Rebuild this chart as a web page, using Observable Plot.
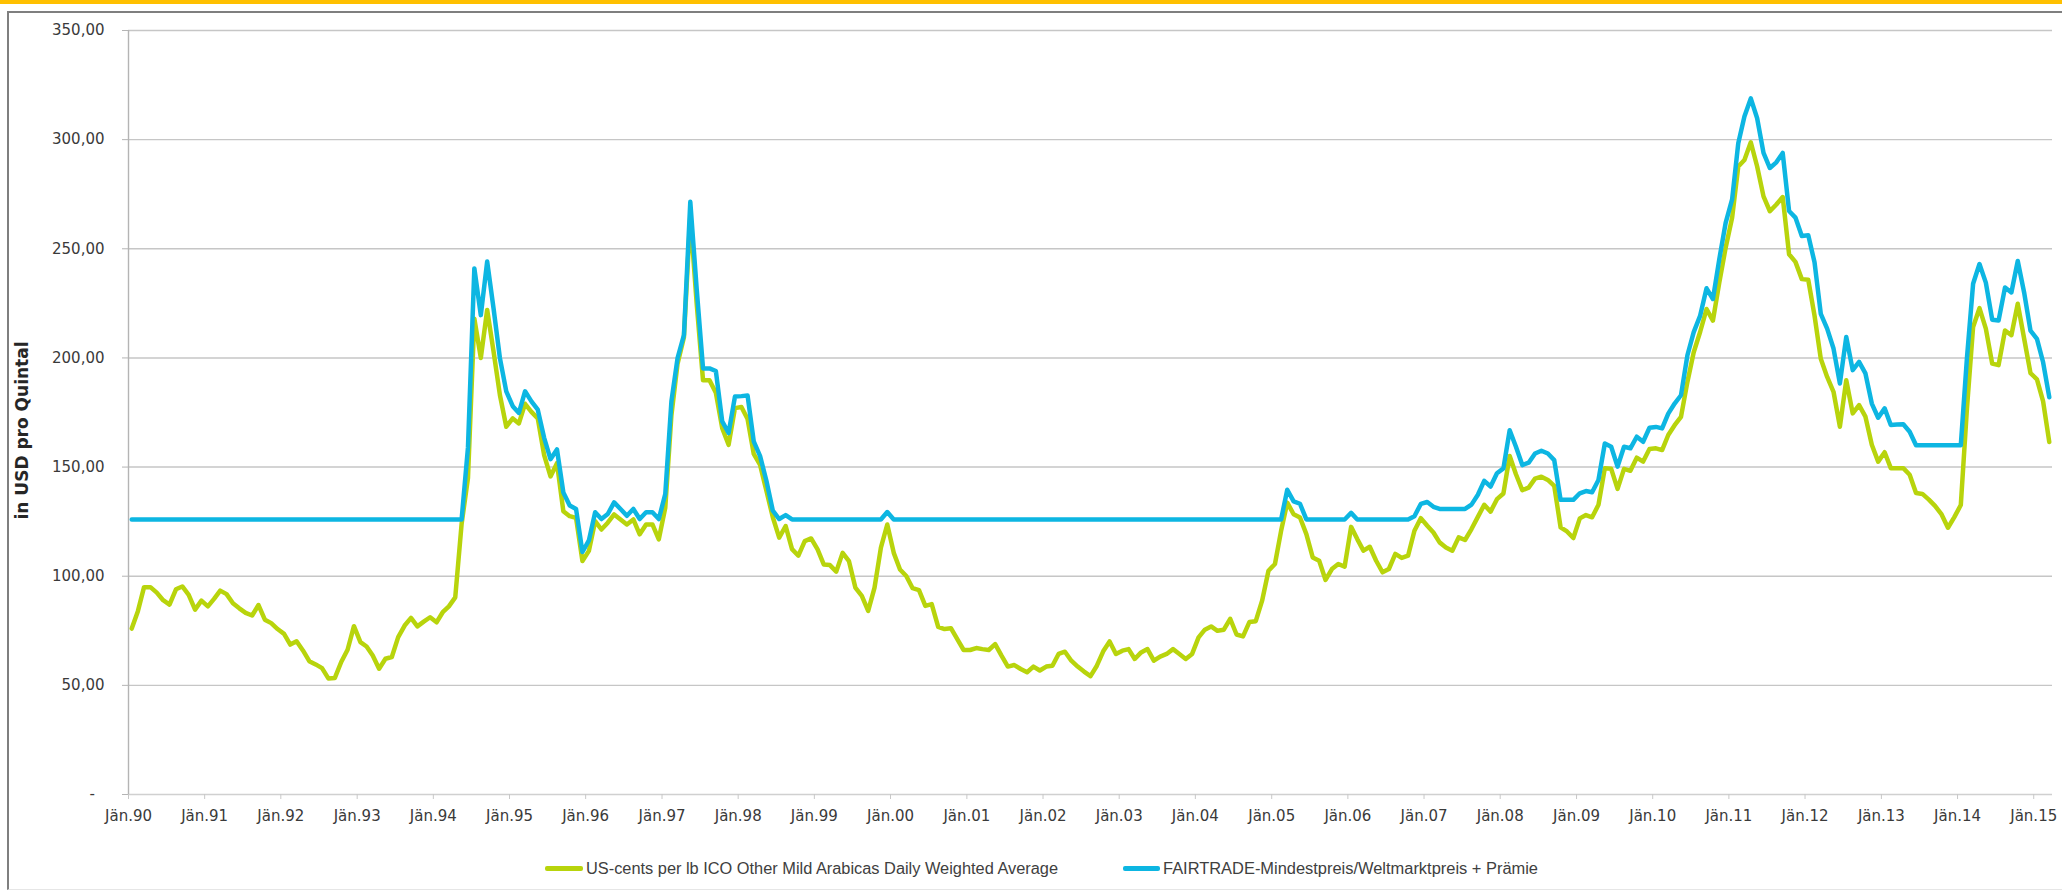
<!DOCTYPE html>
<html><head><meta charset="utf-8">
<script src="https://cdn.jsdelivr.net/npm/d3@7"></script>
<script src="https://cdn.jsdelivr.net/npm/@observablehq/plot@0.6"></script>
<style>
html,body{margin:0;padding:0;background:#fff;width:2062px;height:891px;overflow:hidden;position:relative;font-family:"DejaVu Sans",sans-serif;}
#bar{position:absolute;left:0;top:0;width:2062px;height:4px;background:#ffc000;}
#frame{position:absolute;left:7px;top:11px;width:2060px;height:879px;border-top:2px solid #7f7f7f;border-left:2px solid #7f7f7f;border-bottom:1px solid #e6e6e6;box-sizing:border-box;}
#chart{position:absolute;left:0;top:0;}
#legend{position:absolute;left:0;top:0;width:2062px;height:891px;}
.sw{position:absolute;height:5px;border-radius:2px;}
.lt{position:absolute;white-space:nowrap;font-family:"Liberation Sans Narrow","Liberation Sans",sans-serif;font-size:16px;line-height:20px;color:#404040;transform-origin:0 50%;}
</style></head><body>
<div id="bar"></div><div id="frame"></div><div id="chart"></div><div id="legend"></div>
<script>
// ---- data (monthly, Jan 1990 .. Mar 2015) ----
const firstYear = 1990;
const seriesNames = [
  "US-cents per lb ICO Other Mild Arabicas Daily Weighted Average",
  "FAIRTRADE-Mindestpreis/Weltmarktpreis + Prämie"
];
const seriesColors = ["#b8d40c", "#0db6e2"];
const yAxisTitle = "in USD pro Quintal";

const icoPrices = [
  76, 84, 95, 95, 92.5, 89, 87, 94, 95.3, 91.5,
  84.7, 88.8, 86.2, 89.6, 93.4, 91.8, 87.6, 85.3, 83.2, 82,
  86.8, 80.1, 78.5, 75.8, 73.6, 68.7, 70.2, 66, 61.1, 59.6,
  57.9, 53.1, 53.4, 60.7, 66.3, 77.1, 69.8, 67.8, 63.7, 57.6,
  62.2, 63, 72.1, 77.4, 80.9, 77, 79.2, 81.2, 78.9, 83.5,
  86.2, 90.3, 124, 145, 218, 200, 222, 203, 183, 168.5,
  172.3, 170, 179, 175.3, 172.3, 155.5, 145.7, 151.8, 129.8, 127.5,
  126.7, 107, 111.6, 125.2, 121.4, 124.5, 128.3, 126, 123.7, 126,
  119.2, 123.7, 123.7, 116.9, 131.3, 173.8, 197.4, 209.5, 265, 225,
  189.8, 189.8, 184, 167.8, 160.2, 177, 177.5, 172, 156, 151,
  139, 127, 117.7, 123, 112.4, 109.4, 116.1, 117.3, 112.3, 105.4,
  105.1, 102.1, 110.7, 106.9, 94.8, 91, 84.1, 94.8, 113.1, 123.7,
  110.7, 103.1, 100.1, 94.5, 93.6, 86.4, 87.2, 76.8, 75.8, 76.2,
  71.2, 66.2, 66.2, 67.1, 66.6, 66.2, 68.9, 63.6, 58.6, 59.3,
  57.5, 56, 58.6, 56.8, 58.6, 59, 64.4, 65.4, 61.3, 58.6,
  56.3, 54.2, 59, 65.6, 70.1, 64.4, 65.9, 66.6, 62.1, 65.1,
  66.6, 61.3, 63.2, 64.4, 66.6, 64.4, 62.1, 64.4, 72, 75.5,
  77, 75, 75.5, 80.5, 73.3, 72.4, 79, 79.4, 88.8, 102.5,
  105.6, 120.8, 133.7, 128.4, 126.9, 119.3, 108.6, 107.1, 98.3, 103.3,
  105.6, 104.4, 122.6, 117, 111.7, 113.5, 107.1, 101.8, 103.3, 110.2,
  108.4, 109.4, 120.8, 126.6, 123.1, 120, 115.5, 113.2, 111.7, 117.8,
  116.6, 121.6, 127.2, 132.7, 129.6, 135.3, 137.9, 155.1, 146.7, 139.4,
  140.6, 144.7, 145.6, 144.1, 141.4, 122.4, 120.5, 117.5, 126.5, 128,
  127, 132.7, 149.5, 149.2, 140, 149.2, 148.3, 154.3, 152.5, 158.3,
  158.6, 157.8, 164.7, 169.2, 173, 188.9, 202.6, 212, 222.4, 217.1,
  234.5, 250.5, 264.2, 287.7, 290.7, 298.8, 287.7, 274, 267.2, 270.3,
  273.7, 247.5, 244, 236.1, 235.8, 219.4, 199.6, 191.3, 184.5, 168.5,
  189.8, 174.6, 178.4, 173.1, 160.2, 152.5, 156.8, 149.5, 149.5, 149.5,
  146.5, 138.1, 137.7, 135.1, 132.1, 128.3, 122.2, 127.1, 132.6, 176.9,
  214.2, 222.8, 213.4, 197.4, 196.7, 212.6, 210.4, 224.8, 208.9, 193,
  190.2, 180.1, 161.5
];

const fairtradePrices = [
  126, 126, 126, 126, 126, 126, 126, 126, 126, 126,
  126, 126, 126, 126, 126, 126, 126, 126, 126, 126,
  126, 126, 126, 126, 126, 126, 126, 126, 126, 126,
  126, 126, 126, 126, 126, 126, 126, 126, 126, 126,
  126, 126, 126, 126, 126, 126, 126, 126, 126, 126,
  126, 126, 126, 159, 241, 219.6, 244.2, 222.7, 199.9, 184.7,
  177.9, 174.8, 184.7, 180.1, 176.3, 163.4, 153.6, 158.1, 138.4, 132.4,
  130.8, 111.1, 116.4, 129.3, 126.2, 128.5, 133.8, 130.8, 127.7, 130.8,
  126.2, 129.3, 129.3, 126.2, 137.6, 180.1, 199.9, 210.5, 271.5, 231.7,
  195.2, 195.2, 194, 170.9, 165.6, 182.3, 182.5, 182.8, 161.8, 155,
  143.6, 130, 126.2, 128, 126, 126, 126, 126, 126, 126,
  126, 126, 126, 126, 126, 126, 126, 126, 126, 129.4,
  126, 126, 126, 126, 126, 126, 126, 126, 126, 126,
  126, 126, 126, 126, 126, 126, 126, 126, 126, 126,
  126, 126, 126, 126, 126, 126, 126, 126, 126, 126,
  126, 126, 126, 126, 126, 126, 126, 126, 126, 126,
  126, 126, 126, 126, 126, 126, 126, 126, 126, 126,
  126, 126, 126, 126, 126, 126, 126, 126, 126, 126,
  126, 126, 139.6, 134.3, 133.2, 126, 126, 126, 126, 126,
  126, 126, 129, 126, 126, 126, 126, 126, 126, 126,
  126, 126, 127.5, 133.1, 134, 131.8, 130.8, 130.8, 130.8, 130.8,
  130.8, 132.8, 137.3, 143.7, 141.1, 147.2, 149.4, 166.9, 159.3, 150.9,
  152, 156.2, 157.5, 156.2, 153.2, 135, 135, 135, 138, 139,
  138.5, 144.1, 160.8, 159.3, 150.2, 159.3, 158.6, 163.9, 161.6, 168,
  168.4, 167.7, 174.5, 179.1, 182.9, 201.1, 211.8, 219.4, 231.9, 227,
  245.2, 261.9, 272.6, 298.4, 310.6, 318.9, 309.8, 293.9, 287, 289.6,
  293.9, 267.3, 264.3, 255.9, 256.2, 243.8, 220.2, 213.4, 204.3, 188.3,
  209.6, 194.4, 198.2, 192.9, 179.1, 172.6, 176.9, 169.3, 169.5, 169.6,
  166.2, 160, 160, 160, 160, 160, 160, 160, 160, 200,
  234, 243, 234.5, 217.5, 217.1, 232.3, 230, 244.4, 230, 212.5,
  208.7, 198, 182
];

const yTicks = [0, 50, 100, 150, 200, 250, 300, 350];
const yTickLabels = ["-\u00a0\u00a0", "50,00", "100,00", "150,00", "200,00", "250,00", "300,00", "350,00"];
const xTickYears = [1990,1991,1992,1993,1994,1995,1996,1997,1998,1999,2000,2001,2002,2003,2004,2005,2006,2007,2008,2009,2010,2011,2012,2013,2014,2015];
const xTickLabels = ["Jän.90","Jän.91","Jän.92","Jän.93","Jän.94","Jän.95","Jän.96","Jän.97","Jän.98","Jän.99","Jän.00","Jän.01","Jän.02","Jän.03","Jän.04","Jän.05","Jän.06","Jän.07","Jän.08","Jän.09","Jän.10","Jän.11","Jän.12","Jän.13","Jän.14","Jän.15"];

// ---- build table ----
const monthMid = (i) => new Date((Date.UTC(firstYear, i, 1) + Date.UTC(firstYear, i + 1, 1)) / 2);
const rows = [];
icoPrices.forEach((v, i) => rows.push({date: monthMid(i), value: v, series: seriesNames[0]}));
fairtradePrices.forEach((v, i) => rows.push({date: monthMid(i), value: v, series: seriesNames[1]}));

const xDomain = [new Date(Date.UTC(firstYear, 0, 1)), new Date(Date.UTC(firstYear, icoPrices.length, 1))];
const yLabelMap = new Map(yTicks.map((t, i) => [t, yTickLabels[i]]));
const xTicks = xTickYears.map(y => new Date(Date.UTC(y, 0, 1)));
const xLabelMap = new Map(xTickYears.map((y, i) => [y, xTickLabels[i]]));

const chart = Plot.plot({
  width: 2062, height: 845,
  marginLeft: 128, marginRight: 10, marginTop: 30, marginBottom: 51,
  style: {background: "transparent", fontFamily: "'DejaVu Sans', sans-serif", fontSize: "15px", color: "#404040", overflow: "visible"},
  x: {type: "utc", domain: xDomain},
  y: {domain: [0, 350]},
  color: {domain: seriesNames, range: seriesColors},
  marks: [
    Plot.gridY(yTicks.slice(1), {stroke: "#c6c6c6", strokeOpacity: 1, strokeWidth: 1.4}),
    Plot.ruleY([0], {stroke: "#d0d0d0", strokeWidth: 1.6}),
    Plot.ruleX([xDomain[0]], {stroke: "#b4b4b4", strokeWidth: 1.4}),
    Plot.axisY(yTicks, {tickSize: 6, tickPadding: 18, tickFormat: d => yLabelMap.get(d), stroke: "#b4b4b4", fill: "#3a3a3a", fontSize: 15, label: null}),
    Plot.axisX(xTicks, {tickSize: 5, tickPadding: 11, tickFormat: d => xLabelMap.get(d.getUTCFullYear()), stroke: "#c8c8c8", fill: "#3a3a3a", fontSize: 15, label: null}),
    Plot.text([yAxisTitle], {frameAnchor: "left", textAnchor: "middle", dx: -106, dy: 18, rotate: -90, text: d => d, fontWeight: "bold", fontSize: 17, fill: "#262626"}),
    Plot.lineY(rows.filter(d => d.series === seriesNames[0]), {x: "date", y: "value", stroke: "series", strokeWidth: 4.5, strokeLinejoin: "round", strokeLinecap: "round"}),
    Plot.lineY(rows.filter(d => d.series === seriesNames[1]), {x: "date", y: "value", stroke: "series", strokeWidth: 4.5, strokeLinejoin: "round", strokeLinecap: "round"})
  ]
});
document.getElementById("chart").appendChild(chart);

// ---- legend (below the plot) ----
const legend = document.getElementById("legend");
const legendItems = [
  {sw: 545, swWidth: 38, text: 586, width: 472},
  {sw: 1123, swWidth: 37, text: 1163, width: 375}
];
legendItems.forEach((it, k) => {
  const sw = document.createElement("div");
  sw.className = "sw";
  sw.style.left = it.sw + "px"; sw.style.top = "866px"; sw.style.width = it.swWidth + "px";
  sw.style.background = seriesColors[k];
  legend.appendChild(sw);
  const t = document.createElement("span");
  t.className = "lt";
  t.textContent = seriesNames[k];
  t.style.left = it.text + "px"; t.style.top = "859px";
  legend.appendChild(t);
  const w = t.getBoundingClientRect().width;
  if (w > 0) t.style.transform = `scaleX(${it.width / w})`;
});
</script>
</body></html>
